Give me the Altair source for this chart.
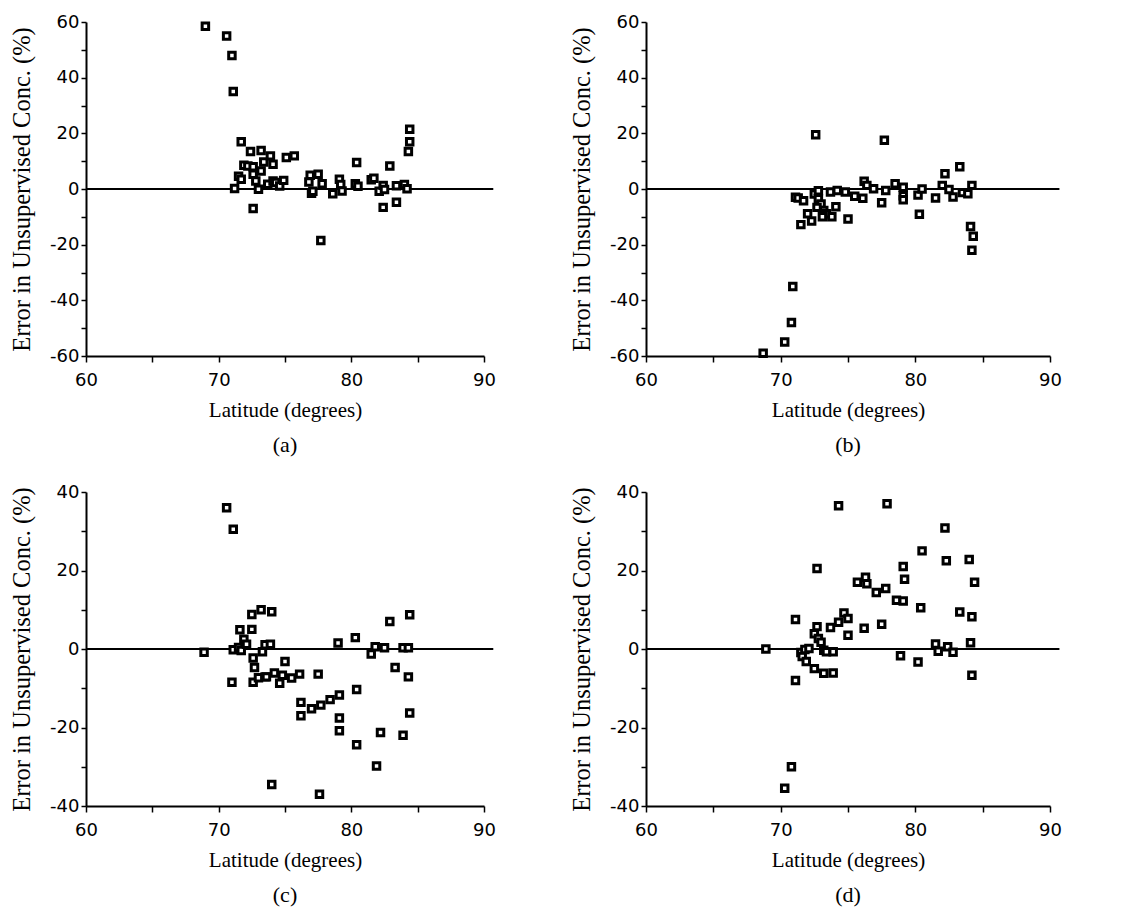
import altair as alt
import pandas as pd

# ---------------- data ----------------
a_lat = [69.0, 70.6, 71.0, 71.1, 71.7, 72.4, 73.2, 71.9, 72.2, 72.6, 71.5, 71.7, 72.6, 72.8, 73.2,
         73.4, 73.9, 74.1, 73.7, 74.1, 74.3, 74.6, 74.9, 75.1, 75.7, 76.9, 76.8, 77.0, 77.1, 77.5,
         77.8, 77.7, 78.6, 79.1, 79.2, 79.3, 80.3, 80.4, 80.5, 81.5, 81.7, 82.1, 82.4, 82.5, 82.4,
         82.9, 83.4, 83.4, 84.0, 84.2, 84.4, 84.4, 84.3, 72.6, 71.2, 73.0]
a_err = [58.5, 55.0, 48.0, 35.0, 17.0, 13.5, 13.8, 8.5, 8.3, 8.0, 4.6, 3.5, 5.3, 2.9, 6.5,
         9.7, 11.9, 8.9, 1.7, 2.9, 2.3, 1.1, 3.1, 11.3, 11.9, 4.9, 2.5, -1.5, -0.8, 5.3,
         1.9, -18.5, -1.7, 3.5, 1.6, -0.7, 1.9, 9.5, 1.0, 3.3, 3.9, -0.8, 1.3, -0.2, -6.6,
         8.3, -4.8, 1.2, 1.6, 0.1, 21.5, 17.0, 13.5, -7.0, 0.2, -0.1]

b_lat = [68.7, 70.3, 70.8, 70.9, 72.6, 77.7, 83.3, 82.2, 71.1, 71.3, 71.7, 71.5, 72.0, 72.3, 72.5,
         72.8, 72.8, 73.0, 72.7, 73.2, 73.4, 73.1, 73.8, 74.1, 73.7, 74.2, 74.8, 75.0, 75.5, 76.1,
         76.2, 76.4, 76.9, 77.5, 77.8, 78.5, 79.1, 79.1, 79.1, 80.2, 80.5, 80.3, 81.5, 82.0, 82.5,
         82.8, 83.5, 83.9, 84.2, 84.1, 84.3, 84.2]
b_err = [-59.0, -55.0, -48.0, -35.0, 19.5, 17.5, 8.0, 5.5, -3.0, -3.2, -4.2, -12.8, -8.9, -11.5, -1.8,
         -0.6, -3.5, -5.4, -6.6, -7.7, -8.9, -10.0, -10.0, -6.4, -1.1, -0.5, -1.1, -10.8, -2.6, -3.3,
         2.8, 1.3, 0.1, -4.9, -0.5, 1.9, 0.6, -2.4, -3.9, -2.2, 0.0, -9.1, -3.2, 1.3, -0.2,
         -2.9, -1.3, -1.7, 1.3, -13.5, -17.0, -22.0]

c_lat = [68.9, 70.6, 71.1, 71.0, 71.1, 71.6, 71.5, 71.7, 71.9, 72.1, 72.5, 72.5, 73.2, 74.0, 72.6,
         72.7, 72.6, 73.0, 73.5, 73.3, 73.5, 73.9, 73.6, 74.2, 74.6, 74.8, 75.0, 75.5, 76.1, 76.2,
         76.2, 77.0, 77.7, 77.5, 77.6, 74.0, 78.4, 79.1, 79.0, 79.1, 79.1, 80.3, 80.4, 80.4, 81.5,
         81.8, 81.9, 82.2, 82.5, 82.9, 83.3, 83.9, 83.9, 84.3, 84.3, 84.4, 84.4]
c_err = [-0.8, 36.0, 30.5, -8.5, -0.2, 4.9, 0.4, -0.4, 2.5, 1.2, 5.0, 8.8, 10.0, 9.5, -2.3,
         -4.7, -8.5, -7.3, -7.1, -0.7, 1.1, 1.2, -7.1, -6.1, -8.7, -6.7, -3.2, -7.4, -6.4, -13.6,
         -17.0, -15.2, -14.3, -6.4, -37.0, -34.5, -12.9, -11.7, 1.5, -17.6, -20.8, 2.9, -10.3, -24.4, -1.3,
         0.6, -29.8, -21.3, 0.3, 7.0, -4.7, -22.0, 0.3, 0.3, -7.1, -16.3, 8.7]

d_lat = [68.9, 70.3, 70.8, 71.1, 71.1, 71.5, 71.6, 71.8, 71.9, 72.1, 72.5, 72.5, 72.7, 72.7, 72.8,
         73.0, 73.2, 73.4, 73.2, 73.9, 73.7, 73.9, 74.3, 74.3, 74.7, 75.0, 75.0, 75.7, 76.2, 76.3,
         76.4, 77.1, 77.5, 77.8, 77.9, 78.6, 79.1, 79.1, 79.2, 78.9, 80.2, 80.4, 80.5, 81.5, 81.7,
         82.2, 82.3, 82.4, 82.8, 83.3, 84.0, 84.1, 84.2, 84.2, 84.4]
d_err = [0.0, -35.5, -30.0, 7.5, -8.0, -0.9, -1.9, -0.1, -3.2, 0.1, -5.0, 3.9, 20.5, 5.7, 2.7,
         1.7, -0.3, -0.7, -6.2, -0.7, 5.5, -6.1, 36.5, 6.8, 9.2, 7.8, 3.5, 17.0, 5.3, 18.3,
         16.6, 14.4, 6.3, 15.4, 37.0, 12.4, 12.2, 21.0, 17.8, -1.7, -3.3, 10.5, 25.0, 1.3, -0.6,
         30.8, 22.5, 0.6, -0.8, 9.4, 22.8, 1.6, 8.2, -6.7, 17.0]

# axis ticks / domains
x_domain = [60, 90]
x_ticks = [60, 65, 70, 75, 80, 85, 90]
y_ticks_60 = [-60, -50, -40, -30, -20, -10, 0, 10, 20, 30, 40, 50, 60]
y_ticks_40 = [-40, -30, -20, -10, 0, 10, 20, 30, 40]
zero_line_x = [60, 90.7]

SERIF = "Liberation Serif"
SANS = "DejaVu Sans"


def panel(lat, err, y_domain, y_ticks, caption, width, height):
    df = pd.DataFrame({"lat": lat, "err": err})
    zdf = pd.DataFrame({"lat": [zero_line_x[0]], "lat2": [zero_line_x[1]], "err": [0]})
    xscale = alt.Scale(domain=x_domain, nice=False, zero=False)
    yscale = alt.Scale(domain=y_domain, nice=False, zero=False)
    xaxis = alt.Axis(
        title="Latitude (degrees)", values=x_ticks,
        labelExpr="datum.value % 10 === 0 ? '' + datum.value : ''",
        titleFontSize=21, titleY=54, titleBaseline="middle",
        labelPadding=9, tickSize=6)
    yaxis = alt.Axis(
        title="Error in Unsupervised Conc. (%)", values=y_ticks,
        labelExpr="datum.value % 20 === 0 ? '' + datum.value : ''",
        titleFontSize=24.5, titleX=-64, titleAngle=270, titleBaseline="middle",
        labelPadding=2, tickSize=5)

    pts = alt.Chart(df).mark_square(
        size=42, fill="white", fillOpacity=1, stroke="black", strokeWidth=3, opacity=1
    ).encode(
        x=alt.X("lat:Q", scale=xscale, axis=xaxis),
        y=alt.Y("err:Q", scale=yscale, axis=yaxis),
    )
    zero = alt.Chart(zdf).mark_rule(color="black", strokeWidth=2).encode(
        x=alt.X("lat:Q", scale=xscale, axis=xaxis),
        x2="lat2:Q",
        y=alt.Y("err:Q", scale=yscale, axis=yaxis),
    )
    return alt.layer(zero, pts).properties(
        width=width, height=height,
        title=alt.TitleParams(text=caption, orient="bottom", anchor="middle", frame="group",
                              font=SERIF, fontSize=22, fontWeight="normal", color="black",
                              offset=15),
    )


pa = panel(a_lat, a_err, [-60, 60], y_ticks_60, "(a)", 398, 334)
pb = panel(b_lat, b_err, [-60, 60], y_ticks_60, "(b)", 404, 334)
pc = panel(c_lat, c_err, [-40, 40], y_ticks_40, "(c)", 398, 314)
pd_ = panel(d_lat, d_err, [-40, 40], y_ticks_40, "(d)", 404, 314)

chart = alt.concat(
    pa, pb, pc, pd_, columns=2, bounds="flush", align="each",
    spacing=alt.RowColnumber(row=136, column=162),
).properties(
    padding={"left": 8, "top": 13, "right": 5, "bottom": 5},
    background="white",
).configure_view(strokeWidth=0).configure_axis(
    grid=False,
    domainColor="black", domainWidth=2,
    tickColor="black", tickWidth=1.5,
    labelFont=SANS, labelFontSize=18, labelColor="black",
    labelFlush=False, labelOverlap=False, labelBound=False,
    titleFont=SERIF, titleColor="black", titleFontWeight="normal",
)

chart.save("out.html", embed_options={"renderer": "svg", "actions": False})
